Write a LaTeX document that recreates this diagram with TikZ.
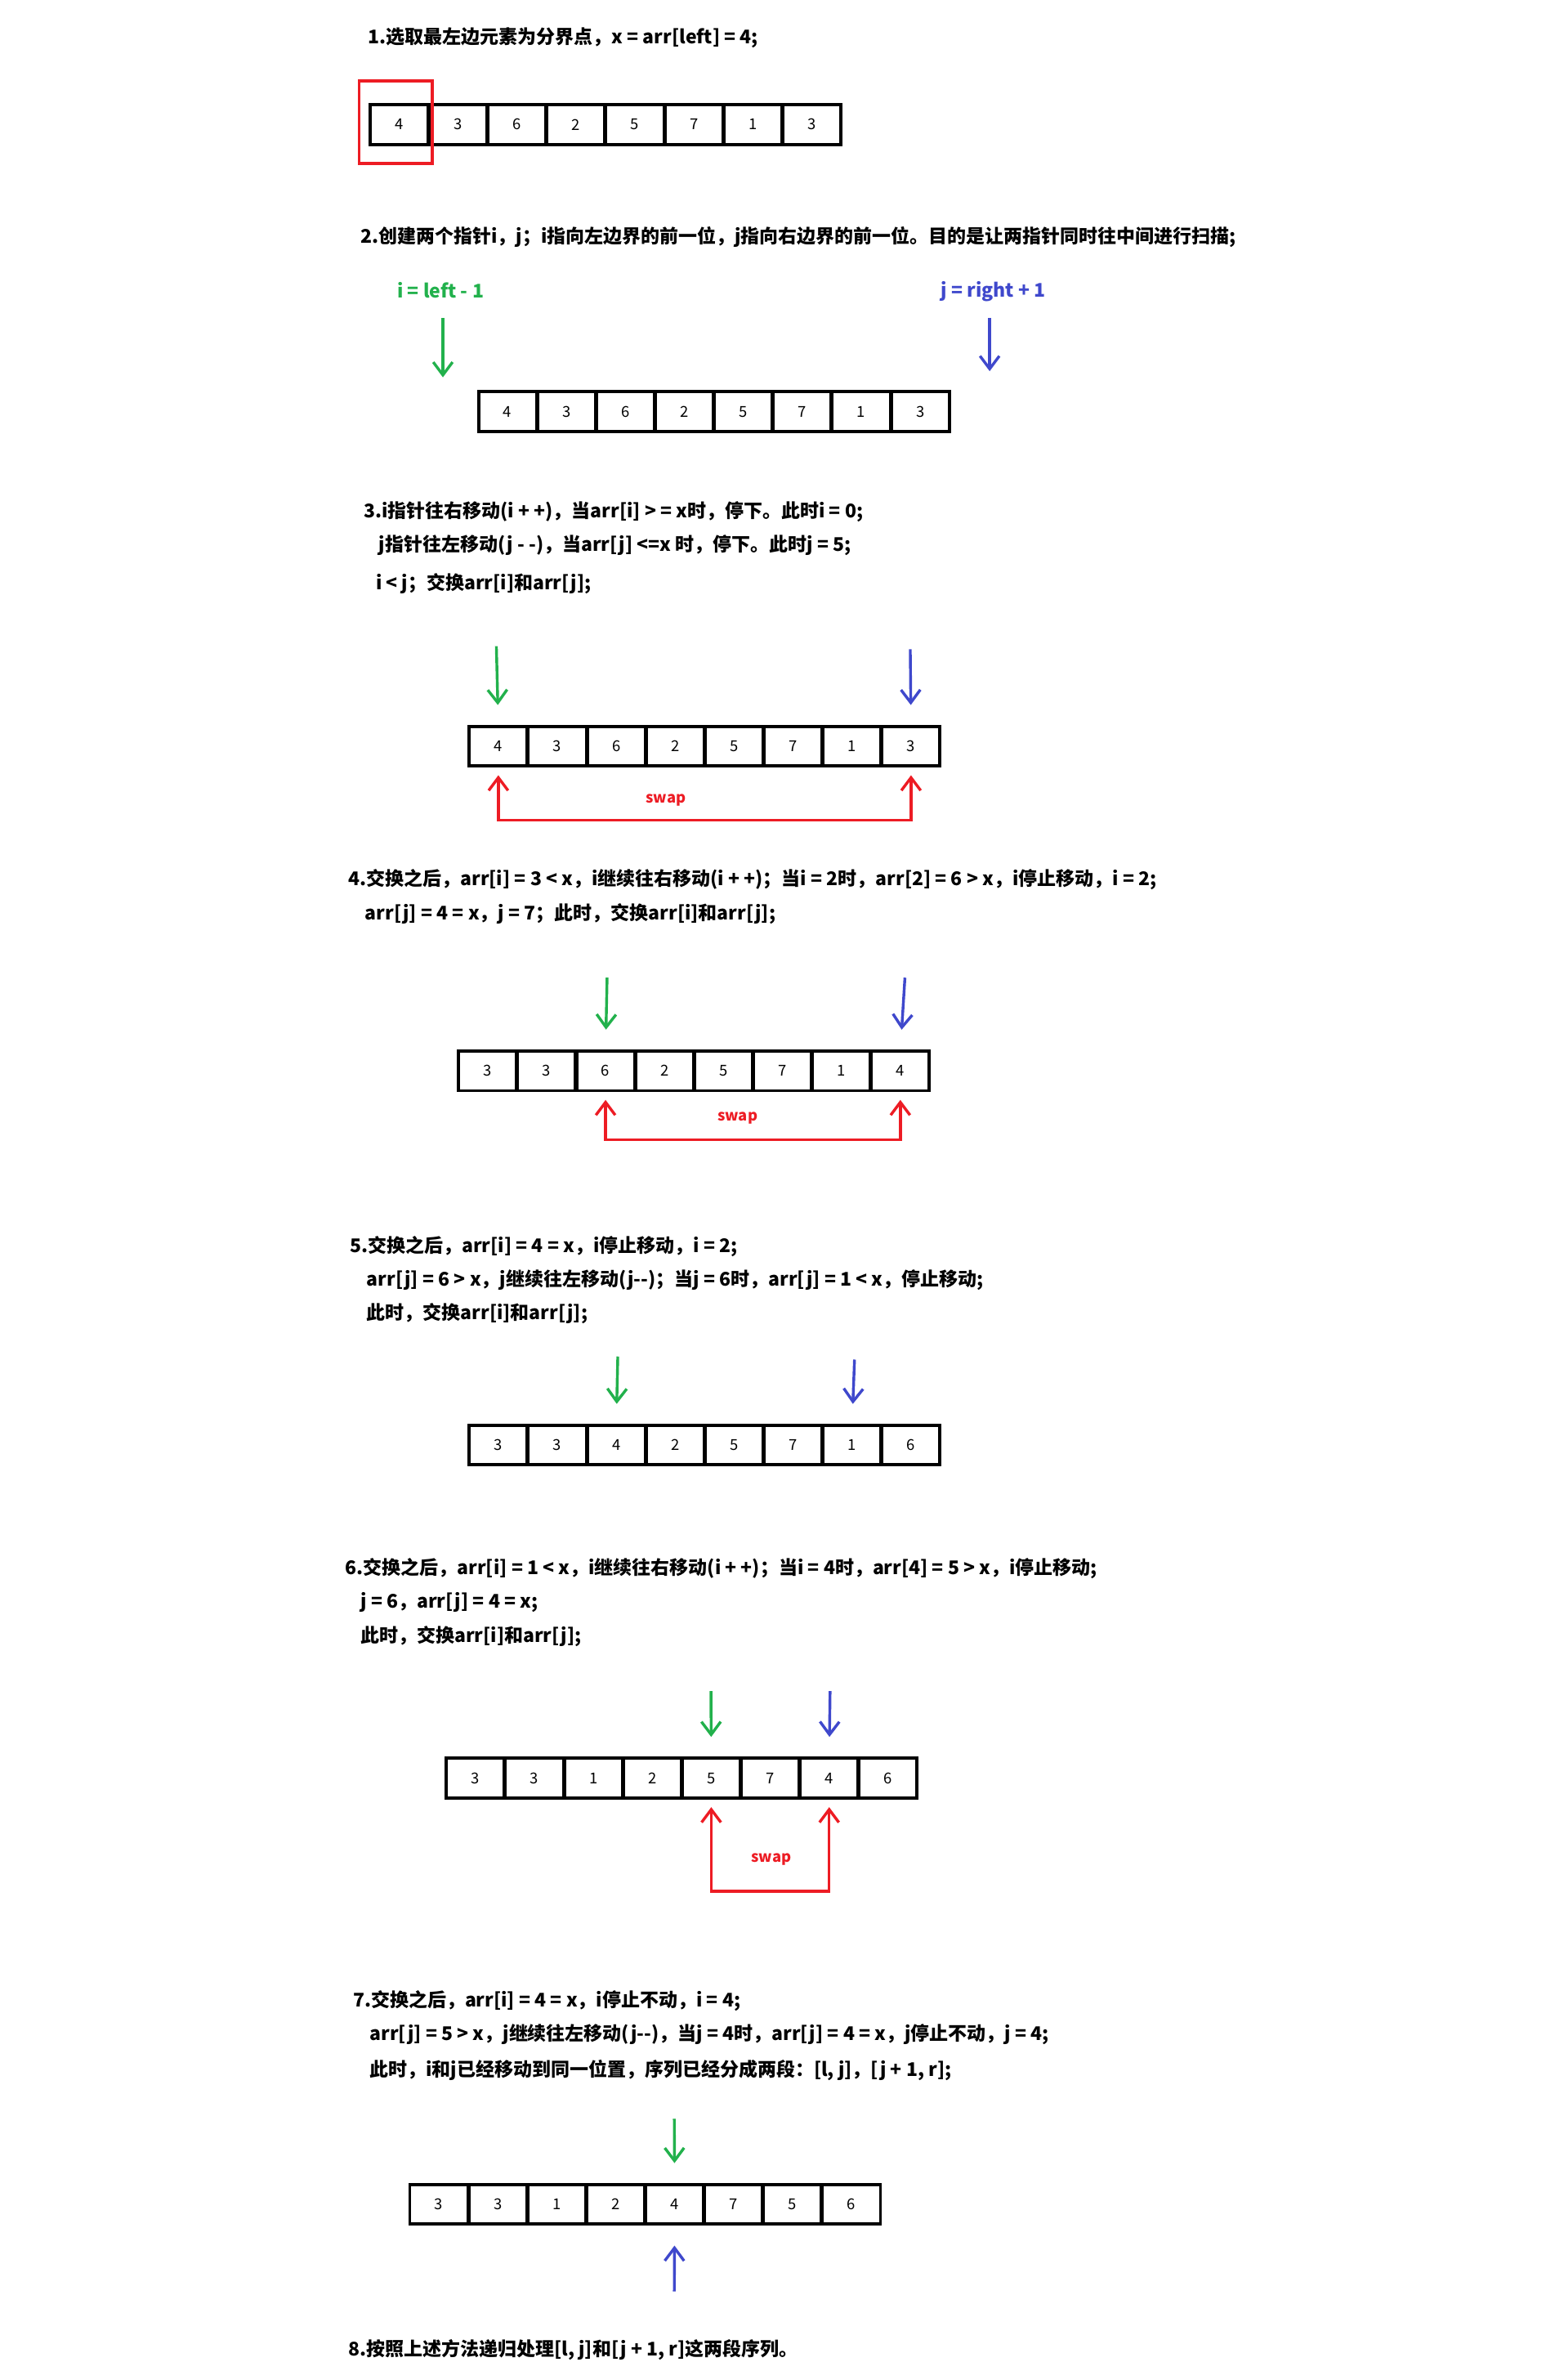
\documentclass[tikz,border=0pt]{standalone}
\usepackage{fontspec}
\setmainfont{Noto Sans CJK SC}
\usetikzlibrary{arrows.meta,calc}

\definecolor{pgreen}{RGB}{34,177,76}
\definecolor{pblue}{RGB}{63,72,204}
\definecolor{pred}{RGB}{237,28,36}

\tikzset{
  cellbox/.style={draw, line width=3pt, minimum width=1.9cm, minimum height=1.3cm,
    inner sep=0pt, outer sep=0pt, font=\fontsize{14}{14}\selectfont},
  steptext/.style={anchor=west, inner sep=0pt, font=\fontsize{17.5}{17.5}\selectfont\bfseries},
  gptr/.style={->, pgreen, line width=2.6pt, shorten >=0.7cm},
  bptr/.style={->, pblue, line width=2.6pt, shorten >=0.7cm},
  swapline/.style={<->, pred, line width=2.6pt, shorten <=0.3cm, shorten >=0.3cm},
  >={Straight Barb[length=12pt,width=18pt,line width=2.6pt]}
}

% one row of eight cells: name, left x, centre y, values
\newcommand{\cellrow}[4]{
  \foreach \v [count=\k] in {#4}
    \node[cellbox] (#1-\k) at ({#2+(\k-0.5)*38.6}, #3) {\v};
}

\begin{document}
\begin{tikzpicture}[x=0.05cm, y=-0.05cm]
  \useasboundingbox (0,0) rectangle (1024,1558);

  % step 1
  \node[steptext] (t1) at (241,25) {1.选取最左边元素为分界点，x = arr[left] = 4;};
  \cellrow{a1}{242}{81.5}{4,3,6,2,5,7,1,3}
  \draw[pred, line width=2.6pt] (235,53) rectangle (283,107);

  % step 2
  \node[steptext] (t2) at (236,155) {2.创建两个指针i，j；i指向左边界的前一位，j指向右边界的前一位。目的是让两指针同时往中间进行扫描;};
  \node[anchor=west, inner sep=0pt, pgreen, font=\fontsize{17.5}{17.5}\selectfont\bfseries] (li) at (260,190) {i = left - 1};
  \node[anchor=west, inner sep=0pt, pblue, font=\fontsize{17.5}{17.5}\selectfont\bfseries] (lj) at (616,191) {j = right + 1};
  \cellrow{a2}{313}{269.5}{4,3,6,2,5,7,1,3}
  \coordinate (gi2) at (290,208);
  \coordinate (bj2) at (648,208);
  \draw[->, pgreen, line width=2.6pt] (gi2) -- (290,247);
  \draw[->, pblue, line width=2.6pt] (bj2) -- (648,243);

  % step 3
  \node[steptext] (t3a) at (238,335) {3.i指针往右移动(i + +)，当arr[i] > = x时，停下。此时i = 0;};
  \node[steptext] (t3b) at (248,357) {j指针往左移动(j - -)，当arr[j] <=x 时，停下。此时j = 5;};
  \node[steptext] (t3c) at (246,382) {i < j；交换arr[i]和arr[j];};
  \cellrow{a3}{307}{488.5}{4,3,6,2,5,7,1,3}
  \coordinate (gi3) at (325,423);
  \coordinate (bj3) at (596,425);
  \draw[gptr] (gi3) -- (a3-1.north);
  \draw[bptr] (bj3) -- (a3-8.north);
  \coordinate (sw3) at (460,537);
  \draw[swapline] (a3-1.south) |- (sw3) -| (a3-8.south);
  \node[pred, font=\fontsize{14}{14}\selectfont\bfseries] (sw3t) at (436,524) {swap};

  % step 4
  \node[steptext] (t4a) at (228,576) {4.交换之后，arr[i] = 3 < x，i继续往右移动(i + +)；当i = 2时，arr[2] = 6 > x，i停止移动，i = 2;};
  \node[steptext] (t4b) at (239,598) {arr[j] = 4 = x，j = 7；此时，交换arr[i]和arr[j];};
  \cellrow{a4}{300}{701}{3,3,6,2,5,7,1,4}
  \coordinate (gi4) at (397.5,640);
  \coordinate (bj4) at (592.5,640);
  \draw[gptr] (gi4) -- (a4-3.north);
  \draw[bptr] (bj4) -- (a4-8.north);
  \coordinate (sw4) at (500,746);
  \draw[swapline] (a4-3.south) |- (sw4) -| (a4-8.south);
  \node[pred, font=\fontsize{14}{14}\selectfont\bfseries] (sw4t) at (483,732) {swap};

  % step 5
  \node[steptext] (t5a) at (229,816) {5.交换之后，arr[i] = 4 = x，i停止移动，i = 2;};
  \node[steptext] (t5b) at (240,838) {arr[j] = 6 > x，j继续往左移动(j{-}{-})；当j = 6时，arr[j] = 1 < x，停止移动;};
  \node[steptext] (t5c) at (240,860) {此时，交换arr[i]和arr[j];};
  \cellrow{a5}{307}{946}{3,3,4,2,5,7,1,6}
  \coordinate (gi5) at (404.5,888);
  \coordinate (bj5) at (559.5,890);
  \draw[gptr] (gi5) -- (a5-3.north);
  \draw[bptr] (bj5) -- (a5-7.north);

  % step 6
  \node[steptext] (t6a) at (226,1027) {6.交换之后，arr[i] = 1 < x，i继续往右移动(i + +)；当i = 4时，arr[4] = 5 > x，i停止移动;};
  \node[steptext] (t6b) at (236,1049) {j = 6，arr[j] = 4 = x;};
  \node[steptext] (t6c) at (236,1071) {此时，交换arr[i]和arr[j];};
  \cellrow{a6}{292}{1164}{3,3,1,2,5,7,4,6}
  \coordinate (gi6) at (465.5,1107);
  \coordinate (bj6) at (543.5,1107);
  \draw[gptr] (gi6) -- (a6-5.north);
  \draw[bptr] (bj6) -- (a6-7.north);
  \coordinate (sw6) at (505,1238);
  \draw[swapline] (a6-5.south) |- (sw6) -| (a6-7.south);
  \node[pred, font=\fontsize{14}{14}\selectfont\bfseries] (sw6t) at (505,1217) {swap};

  % step 7
  \node[steptext] (t7a) at (231,1310) {7.交换之后，arr[i] = 4 = x，i停止不动，i = 4;};
  \node[steptext] (t7b) at (242,1332) {arr[j] = 5 > x，j继续往左移动(j{-}{-})，当j = 4时，arr[j] = 4 = x，j停止不动，j = 4;};
  \node[steptext] (t7c) at (242,1355) {此时，i和j已经移动到同一位置，序列已经分成两段：[l, j]，[j + 1, r];};
  \cellrow{a7}{268}{1443}{3,3,1,2,4,7,5,6}
  \coordinate (gi7) at (441.5,1387);
  \coordinate (bj7) at (441.5,1500);
  \draw[gptr] (gi7) -- (a7-5.north);
  \draw[bptr] (bj7) -- (a7-5.south);

  % step 8
  \node[steptext] (t8) at (228,1538) {8.按照上述方法递归处理[l, j]和[j + 1, r]这两段序列。};
\end{tikzpicture}
\end{document}
